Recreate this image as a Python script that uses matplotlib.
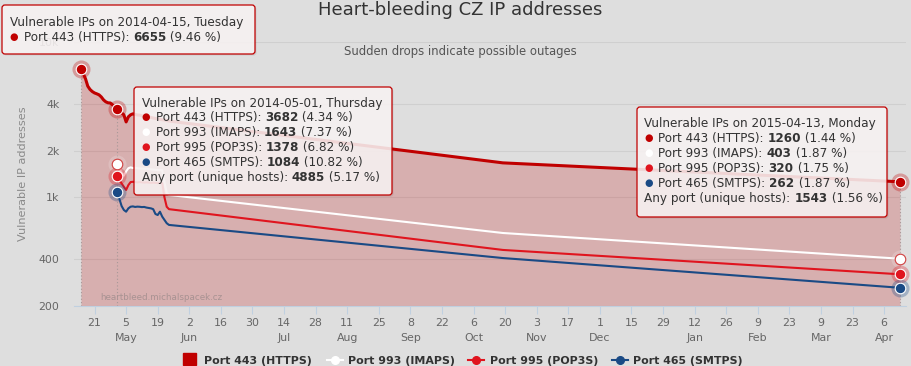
import matplotlib
matplotlib.use("Agg")
import matplotlib.pyplot as plt
import matplotlib.dates as mdates
from matplotlib.patches import FancyBboxPatch, Rectangle
from matplotlib.ticker import FixedLocator, NullLocator
import pandas as pd

plt.rcParams["font.family"] = ["DejaVu Sans"]

# daily scans for the first weeks, then two later re-scans
early_dates = pd.date_range("2014-04-15", "2014-05-24", freq="D")
late_dates = pd.to_datetime(["2014-10-19", "2015-04-13"])

https_443 = [6655, 6250, 5800, 5200, 4950, 4800, 4700, 4640, 4570, 4430,
             4240, 4120, 4060, 4050, 3940, 3820, 3682, 3610, 3500, 3400,
             3060, 3300, 3400, 3450, 3420, 3390, 3385, 3350, 3320, 3310,
             3280, 3270, 3240, 3220, 3210, 3180, 3160, 3150, 3120, 3100,
             1668, 1260]
# the other ports are scanned from 2014-05-01 on
imaps_993 = [1643, 1540, 1440, 1380, 1470, 1540, 1560, 1545, 1550, 1540,
             1535, 1530, 1525, 1530, 1520, 1515, 1510, 1505, 1500, 1495,
             1495, 1250, 1068, 1037, 590, 403]
pop3s_995 = [1378, 1290, 1230, 1170, 1117, 1200, 1255, 1260, 1255, 1250,
             1255, 1250, 1245, 1250, 1245, 1240, 1245, 1240, 1235, 1240,
             1235, 1000, 870, 840, 459, 320]
smtps_465 = [1084, 980, 880, 830, 809, 850, 871, 875, 868, 872,
             870, 866, 868, 860, 855, 850, 840, 782, 770, 809,
             752, 716, 682, 665, 407, 262]

series_names = ["Port 443 (HTTPS)", "Port 993 (IMAPS)", "Port 995 (POP3S)", "Port 465 (SMTPS)"]
series_colors = ["#c00000", "#ffffff", "#e0141e", "#1a4a85"]

tooltip_dates = ["2014-04-15", "2014-05-01", "2015-04-13"]
tooltip_weekdays = ["Tuesday", "Thursday", "Monday"]
tooltip_pcts = [[9.46], [4.34, 7.37, 6.82, 10.82], [1.44, 1.87, 1.75, 1.87]]
any_port_hosts = [None, 4885, 1543]
any_port_pcts = [None, 5.17, 1.56]

y_ticks = [200, 400, 1000, 2000, 4000, 10000]
y_tick_labels = ["200", "400", "1k", "2k", "4k", "10k"]

dates_443 = early_dates.append(late_dates)
dates_other = early_dates[16:].append(late_dates)
series = [pd.Series(https_443, index=dates_443),
          pd.Series(imaps_993, index=dates_other),
          pd.Series(pop3s_995, index=dates_other),
          pd.Series(smtps_465, index=dates_other)]

W, H = 911, 366
BG = "#dedede"
TXT = "#333333"
fig = plt.figure(figsize=(W / 100, H / 100), dpi=100, facecolor=BG)
ax = fig.add_axes([74 / W, 1 - 306 / H, 832 / W, 264 / H])
ax.set_facecolor("none")
ax.set_yscale("log")
ax.set_ylim(200, 10000)
t0 = mdates.date2num(dates_443[0])
ax.set_xlim(t0 - 3.1, t0 - 3.1 + 832 / 2.256)

ax.yaxis.grid(True, color="#cfcfcf", lw=0.8)
ax.set_axisbelow(True)

ax.fill_between(dates_443, https_443, 200, color=series_colors[0], alpha=0.21, lw=0, zorder=1)

# crosshair lines of the three tooltips
for d in tooltip_dates:
    ax.vlines(pd.Timestamp(d), 200, series[0][pd.Timestamp(d)], color="#a89898",
              ls=(0, (1, 2)), lw=0.8, zorder=2)

widths = [2.2, 1.5, 1.5, 1.5]
for s, c, lw in zip(series, series_colors, widths):
    ax.plot(s.index, s.values, color=c, lw=lw, zorder=3, solid_joinstyle="round")

# hover markers with halo
for d in tooltip_dates:
    ts = pd.Timestamp(d)
    for s, c in zip(series, series_colors):
        if ts not in s.index:
            continue
        v = s[ts]
        ax.plot(ts, v, "o", ms=13, color=c if c != "#ffffff" else "#f0e0e0", alpha=0.3,
                mec="none", zorder=4, clip_on=False)
        edge = "#d04040" if c == "#ffffff" else "white"
        ax.plot(ts, v, "o", ms=7.6, mfc=c, mec=edge, mew=0.8, zorder=5, clip_on=False)

# x ticks every second Monday, month name under the first tick of a month
xt = pd.date_range("2014-04-21", "2015-04-13", freq="14D")
xlabels = []
prev = xt[0].month
for d in xt:
    lab = str(d.day)
    if d.month != prev:
        lab += "\n" + d.strftime("%b")
    prev = d.month
    xlabels.append(lab)
ax.set_xticks(xt)
ax.set_xticklabels(xlabels)
for t in ax.get_xticklabels():
    t.set_linespacing(1.65)
ax.tick_params(axis="x", length=6, width=0.8, color="#c0d0e0", labelsize=7.9,
               labelcolor="#666666", pad=2.5)

ax.yaxis.set_major_locator(FixedLocator(y_ticks))
ax.yaxis.set_minor_locator(NullLocator())
ax.set_yticklabels(y_tick_labels)
ax.tick_params(axis="y", length=0, labelsize=7.9, labelcolor="#666666", pad=10.5)

for side in ["top", "right", "left"]:
    ax.spines[side].set_visible(False)
ax.spines["bottom"].set_color("#c0d0e0")
ax.spines["bottom"].set_linewidth(0.8)

# overlay in pixel units for titles, tooltips and legend
ov = fig.add_axes([0, 0, 1, 1], zorder=5)
ov.set_xlim(0, W)
ov.set_ylim(H, 0)
ov.axis("off")
ov.patch.set_alpha(0)

ov.text(460, 15, "Heart-bleeding CZ IP addresses", fontsize=12.96, color=TXT,
        ha="center", va="baseline")
ov.text(460.5, 55, "Sudden drops indicate possible outages", fontsize=8.4, color="#555555",
        ha="center", va="baseline")
ov.text(23, 174, "Vulnerable IP addresses", fontsize=8.1, color="#8a8a8a", rotation=90,
        ha="center", va="center")
ov.text(100, 297, "heartbleed.michalspacek.cz", fontsize=6.3, color="#a89292",
        ha="left", va="center")

renderer = fig.canvas.get_renderer()


def put_runs(x, y, parts, size=8.64):
    for text, weight in parts:
        t = ov.text(x, y, text, fontsize=size, fontweight=weight, color=TXT,
                    ha="left", va="baseline", zorder=8)
        x += t.get_window_extent(renderer).width
    return x


def tooltip(box, idx, base, step=14.9):
    x0, y0, x1, y1 = box
    ov.add_patch(FancyBboxPatch((x0 + 1.5, y0 + 1.5), x1 - x0, y1 - y0,
                                boxstyle="round,pad=0,rounding_size=3",
                                fc=(0, 0, 0, 0.08), ec="none", zorder=6))
    ov.add_patch(FancyBboxPatch((x0, y0), x1 - x0, y1 - y0,
                                boxstyle="round,pad=0,rounding_size=3",
                                fc=(0.975, 0.955, 0.955, 0.88), ec=series_colors[0],
                                lw=0.9, zorder=7))
    ts = pd.Timestamp(tooltip_dates[idx])
    tx = x0 + 7.5
    y = base
    put_runs(tx, y, [("Vulnerable IPs on %s, %s" % (tooltip_dates[idx], tooltip_weekdays[idx]), "normal")])
    for s, name, c, pct in zip(series, series_names, series_colors, tooltip_pcts[idx]):
        y += step
        ov.text(tx + 4.5, y - 4, "\u25cf", fontsize=7, color=c, ha="center", va="center", zorder=8)
        put_runs(tx + 14, y, [(name + ": ", "normal"), ("%d" % s[ts], "bold"),
                              (" (%.2f %%)" % pct, "normal")])
    if any_port_hosts[idx] is not None:
        y += step
        put_runs(tx, y, [("Any port (unique hosts): ", "normal"), ("%d" % any_port_hosts[idx], "bold"),
                         (" (%.2f %%)" % any_port_pcts[idx], "normal")])


tooltip((2, 5, 255, 54), 0, 26)
tooltip((134, 87, 392, 195), 1, 106.5)
tooltip((637, 107, 887, 217), 2, 127.5)

# legend
ly = 359.5
ov.add_patch(Rectangle((183, ly - 6.5), 13, 12, color=series_colors[0], zorder=8))
ov.text(204, ly + 4.5, series_names[0], fontsize=7.9, fontweight="bold", color=TXT,
        ha="left", va="baseline", zorder=8)
for (sx, tx), name, c in zip([(327, 348), (468, 490), (612, 633)], series_names[1:], series_colors[1:]):
    ov.plot([sx, sx + 16], [ly, ly], color=c, lw=1.5, zorder=8)
    ov.plot(sx + 8, ly, "o", ms=5.5, color=c, zorder=8)
    ov.text(tx, ly + 4.5, name, fontsize=7.9, fontweight="bold", color=TXT,
            ha="left", va="baseline", zorder=8)

fig.savefig("out.png", dpi=100, facecolor=BG)
